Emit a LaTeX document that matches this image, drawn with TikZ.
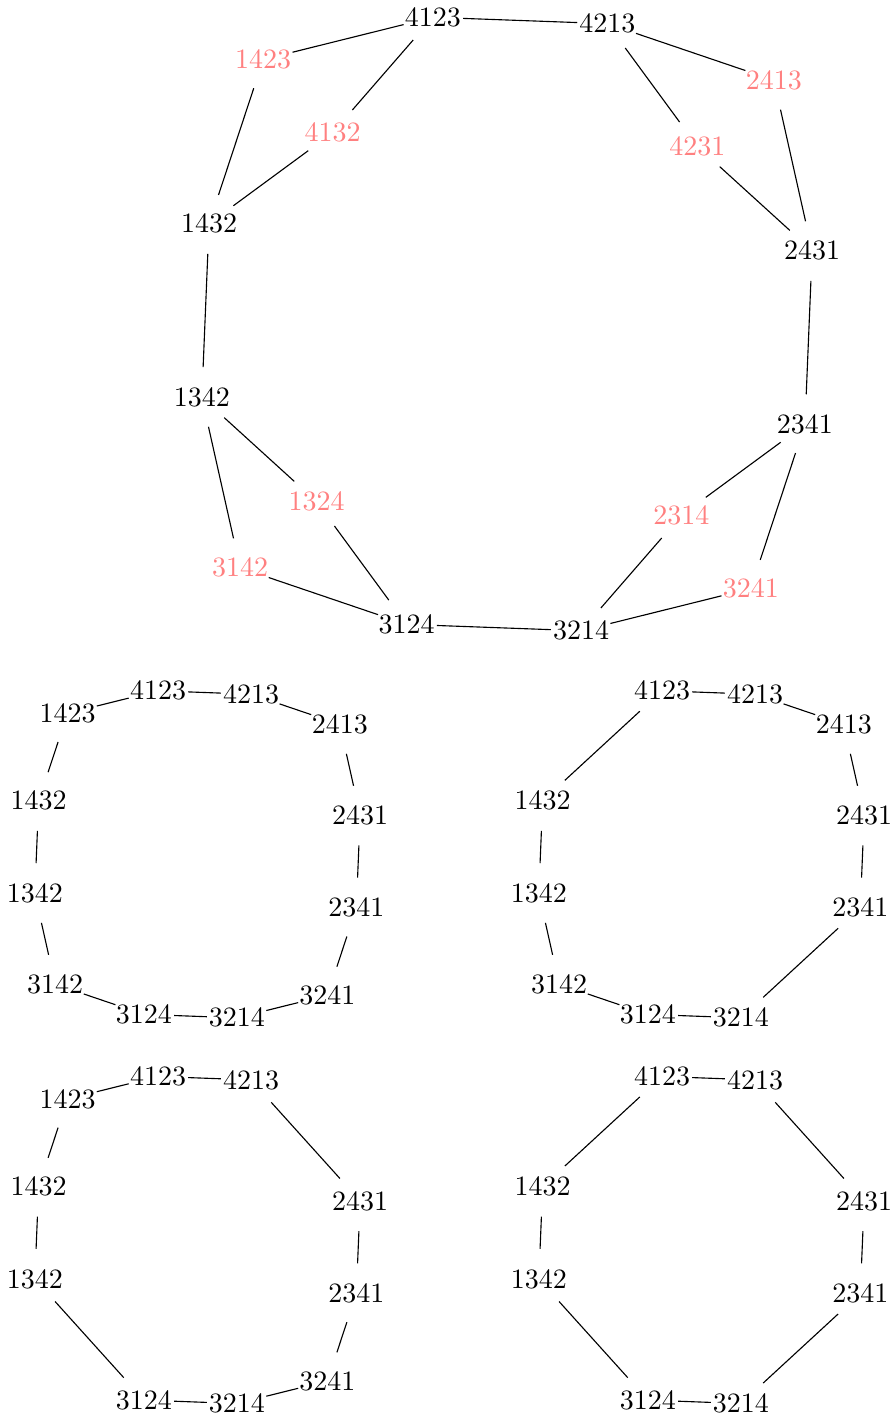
\documentclass[tikz,border=0pt]{standalone}
\usepackage{xcolor}
\newcommand{\lite}[1]{\textcolor{red!50}{#1}}
\usepackage{tikz}

\begin{document}
\begin{tikzpicture}[perm/.style={circle, inner sep=0pt}] % twelve-cycle and its reductions

      \useasboundingbox (-6.364, 4.067) rectangle (4.858, -13.769);

      % big graph
      \foreach \p/\x/\y in {4123/-0.93/3.85, 4213/1.26/3.77, 1432/-3.74/1.26, 2431/3.83/0.92,
                            1342/-3.83/-0.92, 2341/3.74/-1.26, 3124/-1.26/-3.77, 3214/0.93/-3.85}
        \node [perm] (p\p) at (\x, \y) {\p};
      \foreach \p/\x/\y in {1423/-3.06/3.32, 2413/3.35/3.06, 4132/-2.19/2.40, 4231/2.39/2.23,
                            1324/-2.39/-2.23, 2314/2.19/-2.40, 3142/-3.35/-3.06, 3241/3.06/-3.32}
        \node [perm] (p\p) at (\x, \y) {\lite{\p}};
      \draw (p4123) -- (p4213);
      \draw (p4123) -- (p1423) -- (p1432);
      \draw (p4123) -- (p4132) -- (p1432);
      \draw (p4213) -- (p2413) -- (p2431);
      \draw (p4213) -- (p4231) -- (p2431);
      \draw (p1432) -- (p1342);
      \draw (p2431) -- (p2341);
      \draw (p1342) -- (p1324) -- (p3124);
      \draw (p1342) -- (p3142) -- (p3124);
      \draw (p2341) -- (p2314) -- (p3214);
      \draw (p2341) -- (p3241) -- (p3214);
      \draw (p3124) -- (p3214);

      % top left
      \begin{scope}[shift={(-3.885, -6.656)}, scale=0.533]
        \foreach \p/\x/\y in {4123/-0.93/3.85, 4213/1.26/3.77, 1423/-3.06/3.32, 2413/3.35/3.06,
                              1432/-3.74/1.26, 2431/3.83/0.92, 1342/-3.83/-0.92, 2341/3.74/-1.26,
                              3142/-3.35/-3.06, 3241/3.06/-3.32, 3124/-1.26/-3.77, 3214/0.93/-3.85}
          \node [perm] (a\p) at (\x, \y) {\p};
        \draw (a4123) -- (a4213) -- (a2413) -- (a2431) -- (a2341) -- (a3241) -- (a3214)
              -- (a3124) -- (a3142) -- (a1342) -- (a1432) -- (a1423) -- (a4123);
      \end{scope}

      % top right
      \begin{scope}[shift={(2.441, -6.656)}, scale=0.533]
        \foreach \p/\x/\y in {4123/-0.93/3.85, 4213/1.26/3.77, 2413/3.35/3.06,
                              1432/-3.74/1.26, 2431/3.83/0.92, 1342/-3.83/-0.92, 2341/3.74/-1.26,
                              3142/-3.35/-3.06, 3124/-1.26/-3.77, 3214/0.93/-3.85}
          \node [perm] (b\p) at (\x, \y) {\p};
        \draw (b4123) -- (b4213) -- (b2413) -- (b2431) -- (b2341) -- (b3214)
              -- (b3124) -- (b3142) -- (b1342) -- (b1432) -- (b4123);
      \end{scope}

      % bottom left
      \begin{scope}[shift={(-3.885, -11.497)}, scale=0.533]
        \foreach \p/\x/\y in {4123/-0.93/3.85, 4213/1.26/3.77, 1423/-3.06/3.32,
                              1432/-3.74/1.26, 2431/3.83/0.92, 1342/-3.83/-0.92, 2341/3.74/-1.26,
                              3241/3.06/-3.32, 3124/-1.26/-3.77, 3214/0.93/-3.85}
          \node [perm] (c\p) at (\x, \y) {\p};
        \draw (c4123) -- (c4213) -- (c2431) -- (c2341) -- (c3241) -- (c3214)
              -- (c3124) -- (c1342) -- (c1432) -- (c1423) -- (c4123);
      \end{scope}

      % bottom right
      \begin{scope}[shift={(2.441, -11.497)}, scale=0.533]
        \foreach \p/\x/\y in {4123/-0.93/3.85, 4213/1.26/3.77,
                              1432/-3.74/1.26, 2431/3.83/0.92, 1342/-3.83/-0.92, 2341/3.74/-1.26,
                              3124/-1.26/-3.77, 3214/0.93/-3.85}
          \node [perm] (d\p) at (\x, \y) {\p};
        \draw (d4123) -- (d4213) -- (d2431) -- (d2341) -- (d3214)
              -- (d3124) -- (d1342) -- (d1432) -- (d4123);
      \end{scope}

    \end{tikzpicture}
\end{document}
